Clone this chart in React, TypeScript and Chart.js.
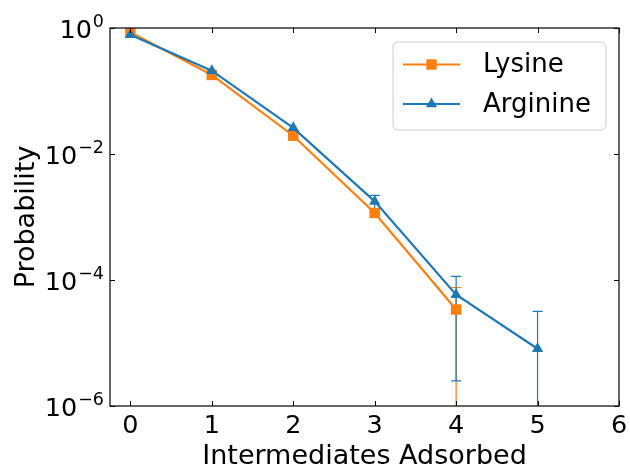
import React, { useEffect, useRef } from "react";
import { Chart, registerables } from "chart.js";

Chart.register(...registerables);

// ---- data ----
const categories = [0, 1, 2, 3, 4, 5];
const lysine = [0.86, 0.18, 0.0195, 0.00116, 3.4e-5];
const lysineErr = [0, 0, 0, 0.00008, 4.2e-5];
const arginine = [0.78, 0.21, 0.026, 0.00177, 5.85e-5, 8.1e-6];
const arginineErr = [0, 0, 0, 0.00043, 5.6e-5, 2.36e-5];
const xTicks = [0, 1, 2, 3, 4, 5, 6];
const yTickExps = [0, -2, -4, -6];
const seriesNames = ["Lysine", "Arginine"];
const xTitle = "Intermediates Adsorbed";
const yTitle = "Probability";

const ORANGE = "#ff7f0e";
const BLUE = "#1f77b4";
const FONT = "'DejaVu Sans'";
const MINUS = "\u2212";

function drawMarker(ctx: CanvasRenderingContext2D, style: string, x: number, y: number, color: string) {
  ctx.save();
  ctx.fillStyle = color;
  ctx.beginPath();
  if (style === "rect") {
    const s = 5.2;
    ctx.rect(x - s, y - s, 2 * s, 2 * s);
  } else {
    const r = 6.5;
    const rad = Math.PI * 2 / 3;
    ctx.moveTo(x, y - r);
    ctx.lineTo(x + Math.sin(rad) * r, y - Math.cos(rad) * r);
    ctx.lineTo(x + Math.sin(2 * rad) * r, y - Math.cos(2 * rad) * r);
    ctx.closePath();
  }
  ctx.fill();
  ctx.restore();
}

const decor = {
  id: "decor",
  beforeDatasetsDraw(chart: any) {
    const ctx: CanvasRenderingContext2D = chart.ctx;
    const xs = chart.scales.x;
    const ys = chart.scales.y;
    const area = chart.chartArea;
    const sets = [
      { vals: lysine, errs: lysineErr, color: ORANGE },
      { vals: arginine, errs: arginineErr, color: BLUE },
    ];
    ctx.save();
    ctx.beginPath();
    ctx.rect(area.left, area.top, area.right - area.left, area.bottom - area.top);
    ctx.clip();
    ctx.lineWidth = 1.2;
    for (const s of sets) {
      ctx.strokeStyle = s.color;
      s.vals.forEach((v, i) => {
        const e = s.errs[i];
        if (!e) return;
        const px = xs.getPixelForValue(categories[i]);
        const hi = ys.getPixelForValue(v + e);
        const lo = v - e > 0 ? ys.getPixelForValue(v - e) : area.bottom + 5;
        ctx.beginPath();
        ctx.moveTo(px, hi);
        ctx.lineTo(px, lo);
        ctx.moveTo(px - 5, hi);
        ctx.lineTo(px + 5, hi);
        if (v - e > 0) {
          ctx.moveTo(px - 5, lo);
          ctx.lineTo(px + 5, lo);
        }
        ctx.stroke();
      });
    }
    ctx.restore();
  },
  afterDraw(chart: any) {
    const ctx: CanvasRenderingContext2D = chart.ctx;
    const xs = chart.scales.x;
    const ys = chart.scales.y;
    const a = chart.chartArea;
    ctx.save();
    // spines
    ctx.strokeStyle = "#000";
    ctx.lineWidth = 1.2;
    ctx.strokeRect(a.left, a.top, a.right - a.left, a.bottom - a.top);
    // ticks (inward)
    const tl = 5;
    ctx.lineWidth = 1;
    ctx.beginPath();
    for (const t of xTicks) {
      const px = Math.round(xs.getPixelForValue(t)) + 0.5;
      ctx.moveTo(px, a.bottom);
      ctx.lineTo(px, a.bottom - tl);
      ctx.moveTo(px, a.top);
      ctx.lineTo(px, a.top + tl);
    }
    for (const e of yTickExps) {
      const py = Math.round(ys.getPixelForValue(Math.pow(10, e))) + 0.5;
      ctx.moveTo(a.left, py);
      ctx.lineTo(a.left + tl, py);
      ctx.moveTo(a.right, py);
      ctx.lineTo(a.right - tl, py);
    }
    ctx.stroke();

    ctx.fillStyle = "#000";
    // x tick labels
    ctx.font = `25.5px ${FONT}`;
    ctx.textAlign = "center";
    ctx.textBaseline = "alphabetic";
    for (const t of xTicks) {
      ctx.fillText(String(t), xs.getPixelForValue(t), 433);
    }
    // y tick labels 10^e
    for (const e of yTickExps) {
      const py = ys.getPixelForValue(Math.pow(10, e));
      const sup = e === 0 ? "0" : MINUS + String(-e);
      ctx.font = `17.5px ${FONT}`;
      const supW = ctx.measureText(sup).width;
      ctx.font = `25.5px ${FONT}`;
      const baseW = ctx.measureText("10").width;
      const right = 104;
      const baseLine = py + 10;
      ctx.textAlign = "left";
      ctx.fillText("10", right - supW - baseW - 1, baseLine);
      ctx.font = `17.5px ${FONT}`;
      ctx.fillText(sup, right - supW, baseLine - 11);
    }
    // axis titles
    ctx.font = `27px ${FONT}`;
    ctx.textAlign = "center";
    ctx.fillText(xTitle, (a.left + a.right) / 2, 464);
    ctx.save();
    ctx.translate(34, (a.top + a.bottom) / 2);
    ctx.rotate(-Math.PI / 2);
    ctx.textBaseline = "alphabetic";
    ctx.fillText(yTitle, 0, 0);
    ctx.restore();

    // legend
    const bx = 393, by = 42, bw = 213, bh = 88, r = 5;
    ctx.beginPath();
    ctx.moveTo(bx + r, by);
    ctx.arcTo(bx + bw, by, bx + bw, by + bh, r);
    ctx.arcTo(bx + bw, by + bh, bx, by + bh, r);
    ctx.arcTo(bx, by + bh, bx, by, r);
    ctx.arcTo(bx, by, bx + bw, by, r);
    ctx.closePath();
    ctx.fillStyle = "rgba(255,255,255,0.8)";
    ctx.fill();
    ctx.strokeStyle = "#cccccc";
    ctx.lineWidth = 1;
    ctx.stroke();
    const items = [
      { name: seriesNames[0], color: ORANGE, style: "rect", y: 64.5 },
      { name: seriesNames[1], color: BLUE, style: "triangle", y: 104 },
    ];
    for (const it of items) {
      ctx.strokeStyle = it.color;
      ctx.lineWidth = 2.2;
      ctx.beginPath();
      ctx.moveTo(403, it.y);
      ctx.lineTo(460, it.y);
      ctx.stroke();
      drawMarker(ctx, it.style, 431.5, it.y, it.color);
      ctx.fillStyle = "#000";
      ctx.font = `26px ${FONT}`;
      ctx.textAlign = "left";
      ctx.textBaseline = "middle";
      ctx.fillText(it.name, 483, it.y + 1);
    }
    ctx.restore();
  },
};

export default function App() {
  const ref = useRef<HTMLCanvasElement | null>(null);
  useEffect(() => {
    if (!ref.current) return;
    const chart = new Chart(ref.current, {
      type: "line",
      data: {
        datasets: [
          {
            label: seriesNames[0],
            data: lysine.map((v, i) => ({ x: categories[i], y: v })),
            borderColor: ORANGE,
            backgroundColor: ORANGE,
            borderWidth: 2.2,
            pointStyle: "rect",
            pointRadius: 7.4,
            pointBorderWidth: 0,
            pointHoverRadius: 7.4,
            order: 2,
          },
          {
            label: seriesNames[1],
            data: arginine.map((v, i) => ({ x: categories[i], y: v })),
            borderColor: BLUE,
            backgroundColor: BLUE,
            borderWidth: 2.2,
            pointStyle: "triangle",
            pointRadius: 6.5,
            pointBorderWidth: 0,
            pointHoverRadius: 6.5,
            order: 1,
          },
        ],
      },
      options: {
        responsive: false,
        animation: false,
        layout: { padding: { top: 28, right: 11, left: 0, bottom: 0 } },
        plugins: { legend: { display: false }, tooltip: { enabled: false } },
        scales: {
          x: {
            type: "linear",
            min: -0.25,
            max: 6,
            ticks: { display: false },
            grid: { display: false },
            border: { display: false },
            afterFit: (s: any) => {
              s.height = 64;
            },
          },
          y: {
            type: "logarithmic",
            min: 1e-6,
            max: 1,
            ticks: { display: false },
            grid: { display: false },
            border: { display: false },
            afterFit: (s: any) => {
              s.width = 110;
            },
          },
        },
      },
      plugins: [decor],
    } as any);
    return () => chart.destroy();
  }, []);
  return (
    <div style={{ position: "absolute", left: 0, top: 0, width: 630, height: 470 }}>
      <canvas ref={ref} width={630} height={470} />
    </div>
  );
}
